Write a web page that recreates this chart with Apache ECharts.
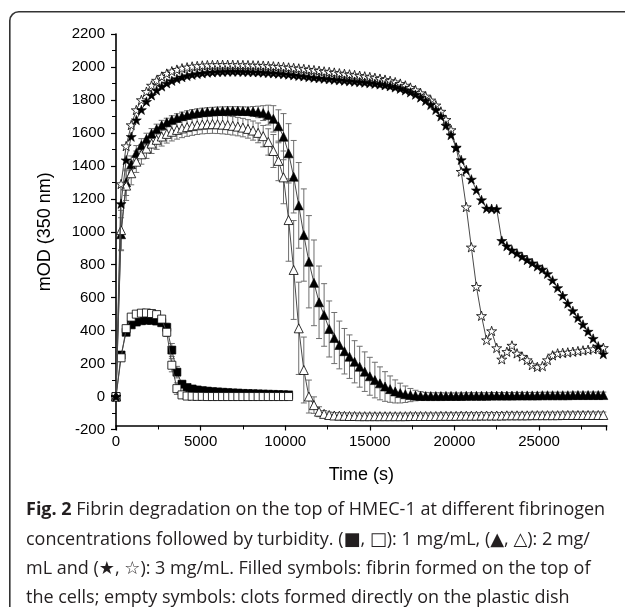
<!DOCTYPE html>
<html>
<head>
<meta charset="utf-8">
<script src="https://cdn.jsdelivr.net/npm/echarts@6/dist/echarts.min.js"></script>
<style>
html,body{margin:0;padding:0;background:#fff;}
#chart{width:625px;height:607px;}
</style>
</head>
<body>
<div id="chart"></div>
<script>
// Time points (s)
var time = [0,300,600,900,1200,1500,1800,2100,2400,2700,3000,3300,3600,3900,4200,4500,4800,5100,5400,5700,6000,6300,6600,6900,7200,7500,7800,8100,8400,8700,9000,9300,9600,9900,10200,10500,10800,11100,11400,11700,12000,12300,12600,12900,13200,13500,13800,14100,14400,14700,15000,15300,15600,15900,16200,16500,16800,17100,17400,17700,18000,18300,18600,18900,19200,19500,19800,20100,20400,20700,21000,21300,21600,21900,22200,22500,22800,23100,23400,23700,24000,24300,24600,24900,25200,25500,25800,26100,26400,26700,27000,27300,27600,27900,28200,28500,28800];

// 3 mg/mL, filled stars (fibrin on cells)
var starFilled = [0,1170,1435,1577,1678,1740,1790,1828,1858,1882,
1901,1916,1928,1938,1946,1953,1958,1962,1966,1968,
1970,1971,1972,1972,1972,1971,1970,1969,1968,1966,
1964,1962,1960,1957,1954,1950,1946,1943,1939,1935,
1932,1929,1926,1923,1920,1917,1914,1911,1908,1905,
1902,1898,1894,1889,1883,1876,1868,1858,1846,1832,
1815,1795,1770,1740,1700,1645,1587,1510,1436,1375,
1318,1253,1193,1142,1140,1138,946,913,888,869,
849,829,810,790,772,745,705,660,612,565,
520,478,437,395,352,305,258];

// 3 mg/mL, open stars (plastic dish)
var starOpen = [0,1290,1520,1648,1739,1800,1850,1888,1918,1942,
1960,1974,1984,1992,1998,2003,2006,2009,2011,2012,
2013,2013,2013,2013,2012,2012,2011,2010,2009,2008,
2006,2004,2002,2000,1997,1994,1991,1988,1984,1981,
1977,1973,1970,1966,1962,1958,1955,1951,1947,1943,
1939,1934,1929,1923,1916,1908,1899,1888,1875,1860,
1842,1822,1798,1768,1730,1680,1618,1512,1365,1150,
906,667,490,343,398,295,226,272,310,262,
243,222,191,180,185,222,250,262,265,268,
272,276,280,284,288,292,296];

// 2 mg/mL, filled triangles
var triFilled = [0,985,1300,1410,1478,1525,1563,1596,1623,1646,
1664,1679,1691,1701,1709,1716,1721,1725,1728,1730,
1732,1733,1734,1734,1734,1733,1732,1730,1727,1720,
1708,1685,1640,1577,1476,1334,1160,980,818,690,
572,495,410,355,313,275,242,211,181,151,
123,100,80,61,45,31,21,14,9,6,
4,3,3,3,3,4,4,4,4,5,
5,5,5,5,6,6,6,6,6,7,
7,7,7,7,8,8,8,8,8,8,
9,9,9,9,9,9,9];
var triFilledErr = [0,100,80,50,45,40,35,30,30,30,
25,25,25,25,25,25,25,25,25,25,
25,25,25,25,25,25,25,30,35,45,
60,80,100,140,180,220,260,280,280,260,
220,190,170,155,145,138,132,128,124,120,
115,108,100,90,80,70,60,50,40,32,
26,22,20,20,20,18,18,18,18,18,
18,18,18,18,18,18,18,18,18,18,
18,18,18,18,18,18,18,18,18,18,
18,18,18,18,18,18,18];

// 2 mg/mL, open triangles
var triOpen = [0,1010,1280,1355,1425,1470,1505,1535,1558,1578,
1594,1607,1618,1627,1635,1641,1646,1650,1652,1653,
1652,1650,1647,1643,1638,1632,1624,1614,1600,1580,
1545,1490,1430,1330,1071,768,414,161,0,-52,
-92,-105,-112,-115,-116,-117,-118,-118,-119,-119,
-119,-119,-119,-119,-119,-119,-119,-119,-118,-118,
-118,-118,-118,-118,-117,-117,-117,-117,-116,-116,
-116,-116,-115,-115,-115,-115,-115,-114,-114,-114,
-114,-114,-113,-113,-113,-113,-113,-113,-112,-112,
-112,-112,-112,-112,-112,-112,-112];
var triOpenErr = [0,120,90,70,65,60,60,60,58,58,
56,56,56,56,56,56,56,56,56,56,
56,56,56,56,56,56,56,58,60,65,
80,100,120,160,250,300,280,200,100,50,
30,20,18,18,18,18,18,18,18,18,
18,18,18,18,18,18,18,18,18,18,
18,18,18,18,18,18,18,18,18,18,
18,18,18,18,18,18,18,18,18,18,
18,18,18,18,18,18,18,18,18,18,
18,18,18,18,18,18,18];

// 1 mg/mL squares (0 - 10200 s)
var sqFilled = [0,252,390,435,452,460,463,462,458,448,
420,282,148,75,55,46,40,36,33,30,
28,26,24,22,21,19,18,17,16,15,
14,13,12,11,10];
var sqOpen = [0,235,412,482,500,506,507,504,497,470,
390,190,48,10,3,2,1,1,0,0,
0,0,0,0,0,0,0,0,0,0,
0,0,0,0,0];
var sqErr = [0,20,20,15,15,15,15,15,15,20,
25,40,35,20,10,8,8,8,8,8,
8,8,8,8,8,8,8,8,8,8,
8,8,8,8,8];

// Axis ticks
var xTicks = {min:0, max:29000, interval:5000};
var yTicks = {min:-200, max:2200, interval:200};

var caption = [
  '{b|Fig. 2} Fibrin degradation on the top of HMEC-1 at different fibrinogen',
  'concentrations followed by turbidity. (\u25A0, \u25A1): 1 mg/mL, (\u25B2, \u25B3): 2 mg/',
  'mL and (\u2605, \u2606): 3 mg/mL. Filled symbols: fibrin formed on the top of',
  'the cells; empty symbols: clots formed directly on the plastic dish'
];

var STAR = 'path://M50,0 L61.8,35.1 L98.9,35.1 L68.9,56.7 L80.3,91.9 L50,70 L19.7,91.9 L31.1,56.7 L1.1,35.1 L38.2,35.1 Z';

function pairs(vals){ var out=[]; for(var i=0;i<vals.length;i++){ out.push([time[i], vals[i]]); } return out; }
function errData(vals, errs){ var out=[]; for(var i=0;i<vals.length;i++){ if(errs[i]>0) out.push([time[i], vals[i]-errs[i], vals[i]+errs[i]]); } return out; }

function errSeries(vals, errs){
  return {
    type:'custom', silent:true, z:1,
    data: errData(vals, errs),
    encode:{x:0, y:[1,2]},
    renderItem: function(params, api){
      var x = api.value(0);
      var lo = api.coord([x, api.value(1)]);
      var hi = api.coord([x, api.value(2)]);
      var w = 3;
      var st = {stroke:'#6e6e6e', lineWidth:1};
      return {type:'group', children:[
        {type:'line', shape:{x1:lo[0],y1:lo[1],x2:hi[0],y2:hi[1]}, style:st},
        {type:'line', shape:{x1:hi[0]-w,y1:hi[1],x2:hi[0]+w,y2:hi[1]}, style:st},
        {type:'line', shape:{x1:lo[0]-w,y1:lo[1],x2:lo[0]+w,y2:lo[1]}, style:st}
      ]};
    }
  };
}

function lineSeries(vals, symbol, size, filled, z){
  return {
    type:'line', data: pairs(vals), z:z,
    symbol: symbol, symbolSize: size, symbolKeepAspect:true,
    showSymbol:true, silent:true,
    lineStyle:{color:'#4a4a4a', width:1},
    itemStyle: filled ? {color:'#000', borderColor:'#000', borderWidth:0.6}
                      : {color:'#fff', borderColor:'#000', borderWidth:0.8},
    emphasis:{disabled:true}
  };
}

var chart = echarts.init(document.getElementById('chart'), null, {renderer:'canvas'});

var CAPFONT = '18px "Open Sans", "DejaVu Sans", sans-serif';
var graphics = [{
  type:'rect', left:9, top:11, z:-10, silent:true,
  shape:{width:640, height:640, r:9},
  style:{fill:'#fff', stroke:'#333', lineWidth:1.6}
}];
var capTop = [501, 531, 560, 589];
for (var i=0;i<caption.length;i++){
  graphics.push({
    type:'text', left:26, top:capTop[i], z:10, silent:true,
    style:{
      text: caption[i],
      font: CAPFONT,
      fill:'#231f20',
      rich:{ b:{ font:'bold 18px "Open Sans", "DejaVu Sans", sans-serif', fill:'#231f20' } }
    }
  });
}

chart.setOption({
  animation:false,
  backgroundColor:'#fff',
  graphic: graphics,
  grid:{left:116, right:18.3, top:34, bottom:177.5, containLabel:false},
  xAxis:{
    type:'value', min:xTicks.min, max:xTicks.max, interval:xTicks.interval,
    offset:-4,
    name:'Time (s)', nameLocation:'middle', nameGap:41,
    nameTextStyle:{fontFamily:'Liberation Sans', fontSize:18, color:'#000'},
    axisLine:{onZero:false, lineStyle:{color:'#000', width:1.6}},
    axisTick:{show:true, length:5, inside:false, lineStyle:{color:'#000', width:1.2}},
    minorTick:{show:true, splitNumber:2, length:4, lineStyle:{color:'#000', width:1}},
    axisLabel:{fontFamily:'Liberation Sans', fontSize:15, color:'#000', margin:9,
      formatter:function(v){ return v===29000 ? '' : String(v); }},
    splitLine:{show:false}
  },
  yAxis:{
    type:'value', min:yTicks.min, max:yTicks.max, interval:yTicks.interval,
    name:'mOD (350 nm)', nameLocation:'middle', nameGap:62, nameRotate:90,
    nameTextStyle:{fontFamily:'Liberation Sans', fontSize:18, color:'#000'},
    axisLine:{show:true, onZero:false, lineStyle:{color:'#000', width:1.6}},
    axisTick:{show:true, length:5, inside:false, lineStyle:{color:'#000', width:1.2}},
    minorTick:{show:true, splitNumber:2, length:4, lineStyle:{color:'#000', width:1}},
    axisLabel:{fontFamily:'Liberation Sans', fontSize:15, color:'#000', margin:11,
      formatter:function(v){ return String(v); }},
    splitLine:{show:false}
  },
  series:[
    errSeries(triFilled, triFilledErr),
    errSeries(triOpen, triOpenErr),
    errSeries(sqFilled, sqErr),
    errSeries(sqOpen, sqErr),
    lineSeries(sqFilled, 'rect', 8, true, 2),
    lineSeries(sqOpen, 'rect', 8, false, 3),
    lineSeries(triFilled, 'triangle', 9, true, 4),
    lineSeries(triOpen, 'triangle', 9, false, 5),
    lineSeries(starOpen, STAR, 10, false, 6),
    lineSeries(starFilled, STAR, 10, true, 7)
  ]
});
</script>
</body>
</html>
